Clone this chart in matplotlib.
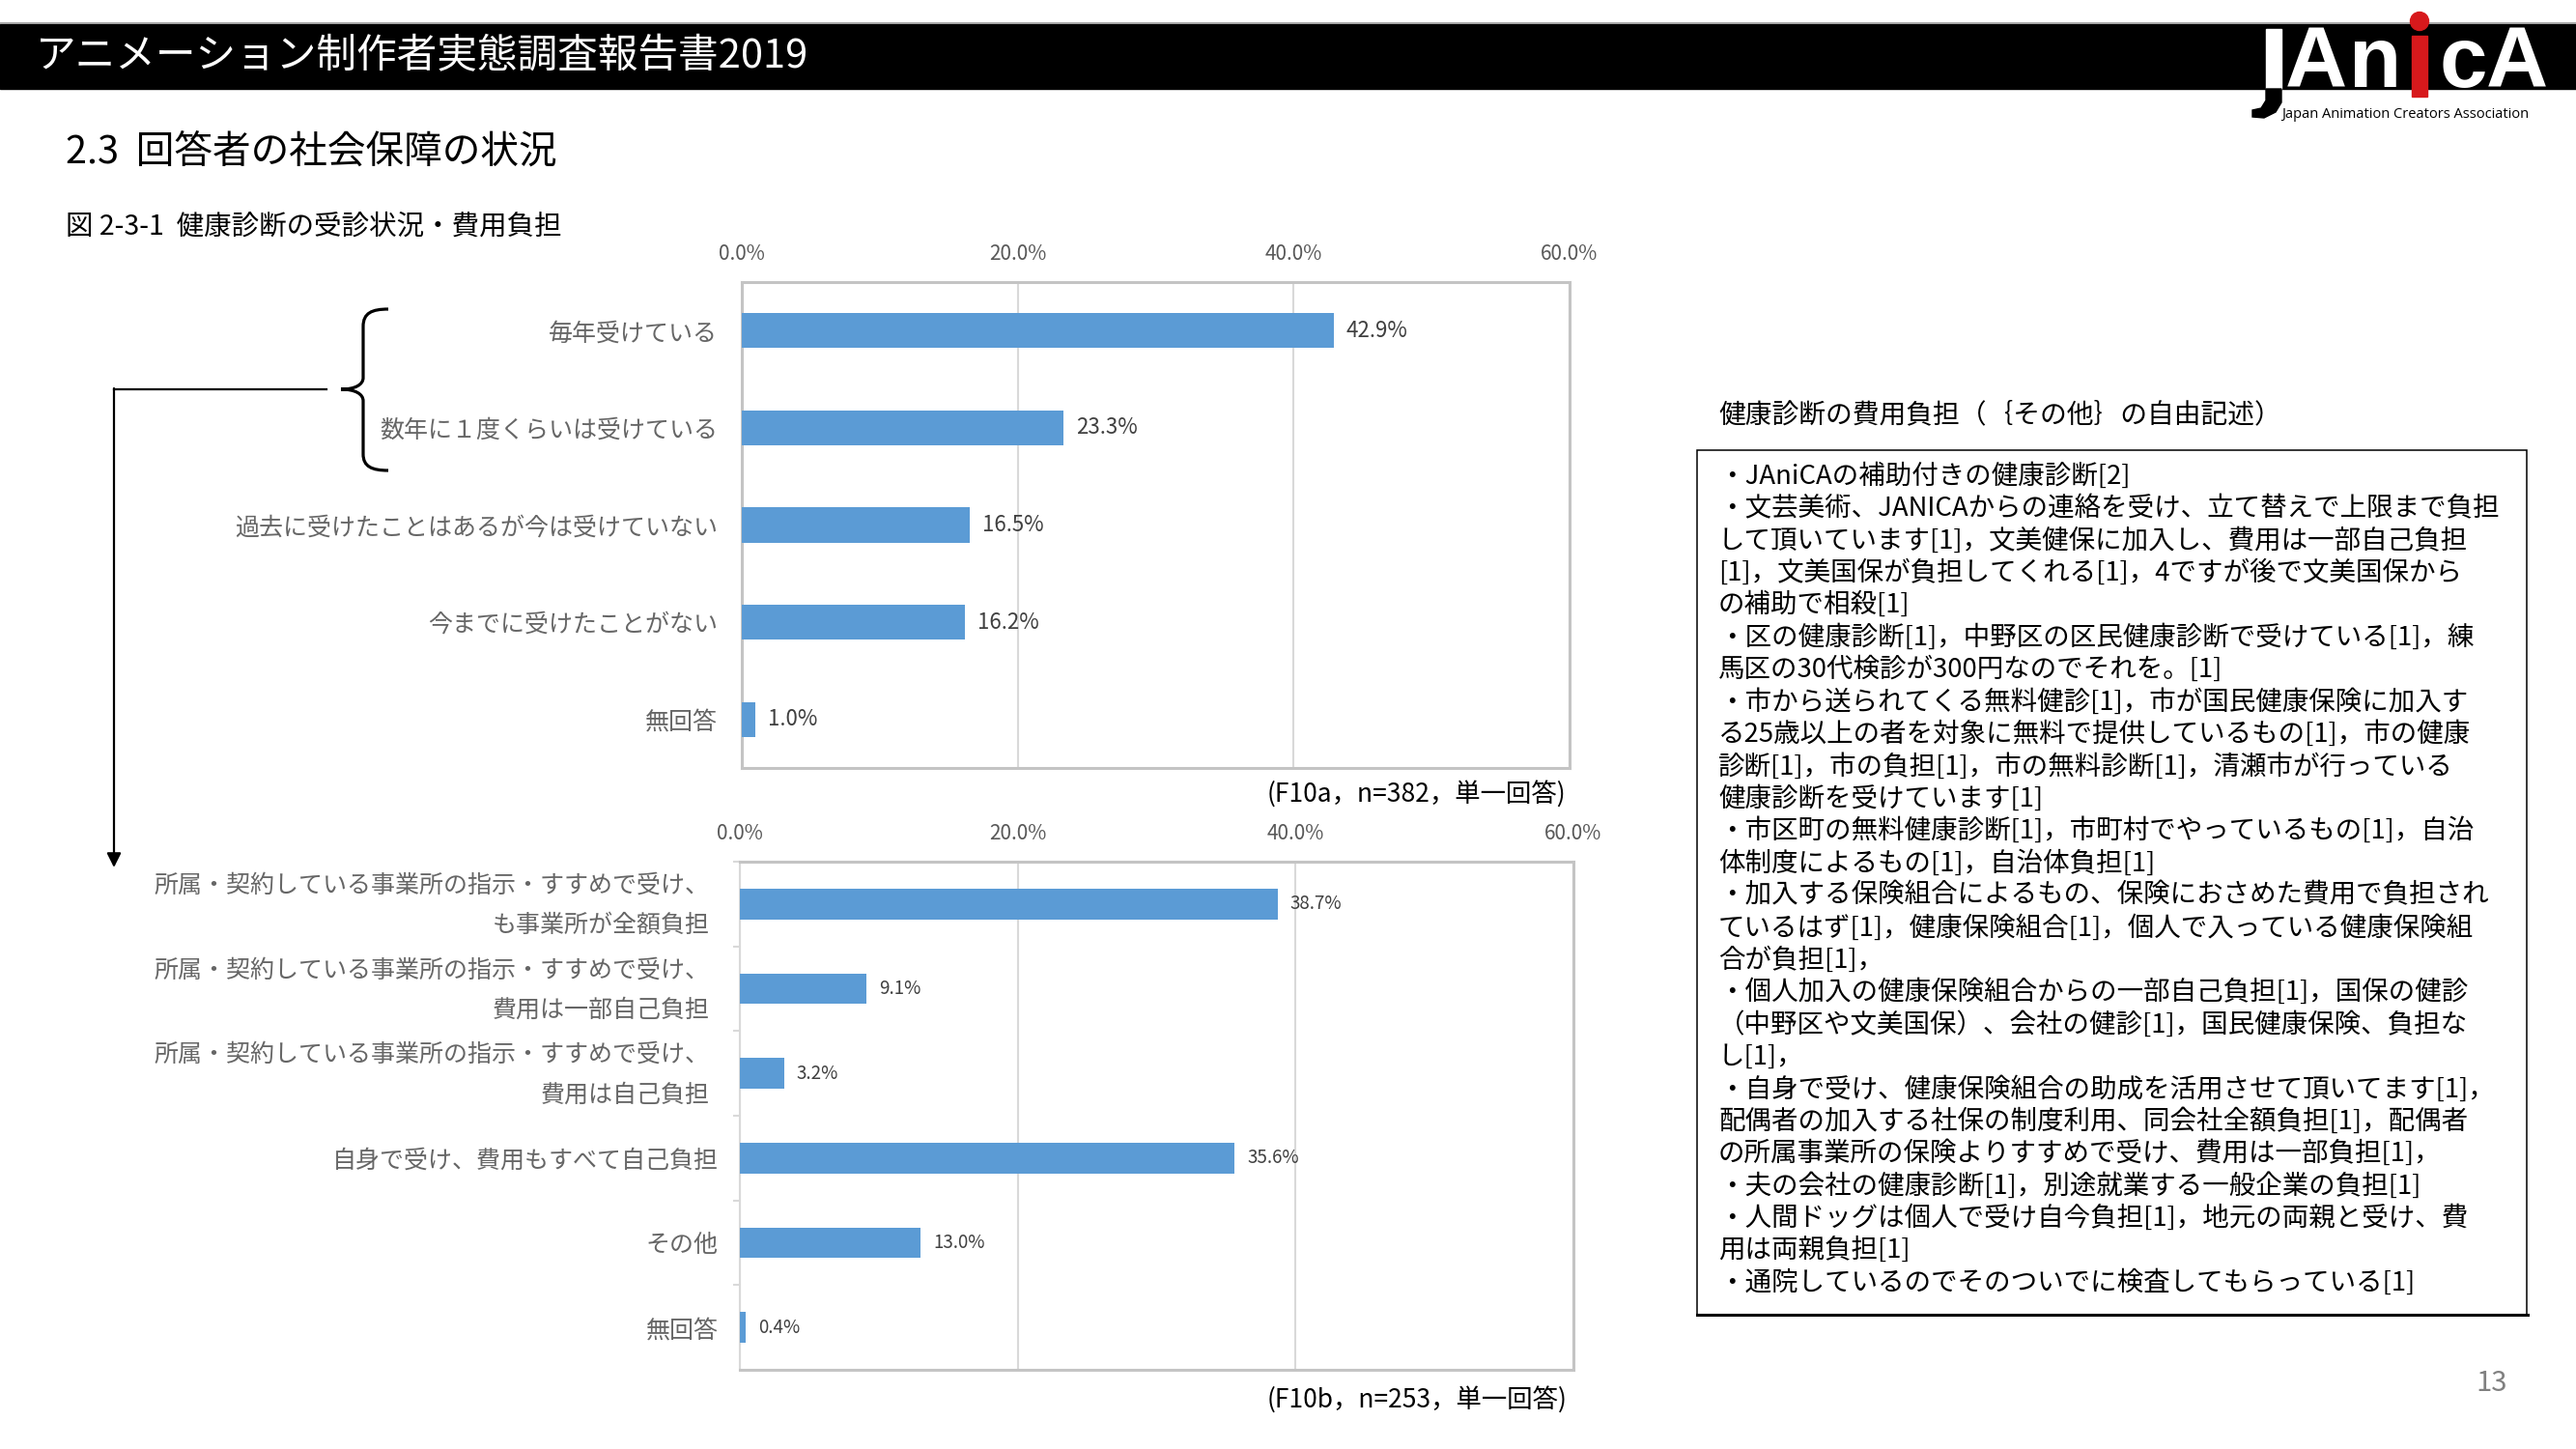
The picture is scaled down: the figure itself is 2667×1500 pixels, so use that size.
import numpy as np
import matplotlib.pyplot as plt
from matplotlib.patches import Rectangle, Circle, Polygon, PathPatch
from matplotlib.path import Path
from matplotlib.transforms import ScaledTranslation

plt.rcParams['font.family'] = ['Noto Sans CJK JP', 'DejaVu Sans']

# --- data ---
q1_labels = ['毎年受けている', '数年に１度くらいは受けている',
             '過去に受けたことはあるが今は受けていない',
             '今までに受けたことがない', '無回答']
q1_values = [42.9, 23.3, 16.5, 16.2, 1.0]

q2_labels = ['所属・契約している事業所の指示・すすめで受け、\nも事業所が全額負担',
             '所属・契約している事業所の指示・すすめで受け、\n費用は一部自己負担',
             '所属・契約している事業所の指示・すすめで受け、\n費用は自己負担',
             '自身で受け、費用もすべて自己負担', 'その他', '無回答']
q2_values = [38.7, 9.1, 3.2, 35.6, 13.0, 0.4]

x_ticks = [0, 20, 40, 60]
note1 = '(F10a，n=382，単一回答)'
note2 = '(F10b，n=253，単一回答)'

free_title = '健康診断の費用負担（｛その他｝の自由記述）'
free_lines = [
    '・JAniCAの補助付きの健康診断[2]',
    '・文芸美術、JANICAからの連絡を受け、立て替えで上限まで負担',
    'して頂いています[1]，文美健保に加入し、費用は一部自己負担',
    '[1]，文美国保が負担してくれる[1]，4ですが後で文美国保から',
    'の補助で相殺[1]',
    '・区の健康診断[1]，中野区の区民健康診断で受けている[1]，練',
    '馬区の30代検診が300円なのでそれを。[1]',
    '・市から送られてくる無料健診[1]，市が国民健康保険に加入す',
    'る25歳以上の者を対象に無料で提供しているもの[1]，市の健康',
    '診断[1]，市の負担[1]，市の無料診断[1]，清瀬市が行っている',
    '健康診断を受けています[1]',
    '・市区町の無料健康診断[1]，市町村でやっているもの[1]，自治',
    '体制度によるもの[1]，自治体負担[1]',
    '・加入する保険組合によるもの、保険におさめた費用で負担され',
    'ているはず[1]，健康保険組合[1]，個人で入っている健康保険組',
    '合が負担[1]，',
    '・個人加入の健康保険組合からの一部自己負担[1]，国保の健診',
    '（中野区や文美国保）、会社の健診[1]，国民健康保険、負担な',
    'し[1]，',
    '・自身で受け、健康保険組合の助成を活用させて頂いてます[1]，',
    '配偶者の加入する社保の制度利用、同会社全額負担[1]，配偶者',
    'の所属事業所の保険よりすすめで受け、費用は一部負担[1]，',
    '・夫の会社の健康診断[1]，別途就業する一般企業の負担[1]',
    '・人間ドッグは個人で受け自今負担[1]，地元の両親と受け、費',
    '用は両親負担[1]',
    '・通院しているのでそのついでに検査してもらっている[1]',
]

BLUE = '#5b9bd5'
LABEL = '#666666'
VALUE = '#404040'
W, H = 2667, 1500

fig = plt.figure(figsize=(W / 100, H / 100), dpi=100)

# overlay in pixel coordinates for page decorations
ov = fig.add_axes([0, 0, 1, 1])
ov.set_xlim(0, W)
ov.set_ylim(H, 0)
ov.axis('off')

# header bar
ov.add_patch(Rectangle((0, 25), W, 67, color='black', zorder=1))
ov.plot([0, W], [24, 24], color='#9a9a9a', lw=1.2, zorder=1)
ov.text(37, 59, 'アニメーション制作者実態調査報告書2019', color='white',
        fontsize=30, va='center', ha='left', zorder=3)

# logo
ov.add_patch(Rectangle((2346, 30), 16, 62, color='white', zorder=3))
ov.add_patch(Polygon([(2346, 92), (2362, 92), (2362, 106), (2356, 116), (2344, 122),
                      (2332, 121), (2332, 114), (2341, 112), (2346, 104)],
                     closed=True, color='black', zorder=3))
for ch, xc in zip(['A', 'n', 'c', 'A'], [2398, 2459, 2550, 2606]):
    ov.text(xc, 90, ch, color='white', fontsize=64, fontweight='bold',
            family='Liberation Sans', ha='center', va='baseline', zorder=3)
ov.add_patch(Rectangle((2497, 37), 16, 63, color='#d7191c', zorder=4))
ov.add_patch(Circle((2505, 22), 9.5, color='#d7191c', zorder=4))
ov.text(2362, 118, 'Japan Animation Creators Association', fontsize=10.5,
        family='Open Sans', ha='left', va='center', color='black')

# headings
ov.text(68, 158, '2.3  回答者の社会保障の状況', fontsize=28.5, va='center', ha='left')
ov.text(68, 235, '図 2-3-1  健康診断の受診状況・費用負担', fontsize=20.5,
        va='center', ha='left')

# brace and arrow
verts = [(402, 320), (385, 320), (376, 324), (376, 338),
         (376, 391),
         (376, 398), (368, 403), (353, 403),
         (368, 403), (376, 408), (376, 415),
         (376, 470),
         (376, 483), (385, 487), (402, 487)]
codes = [Path.MOVETO, Path.CURVE4, Path.CURVE4, Path.CURVE4,
         Path.LINETO,
         Path.CURVE4, Path.CURVE4, Path.CURVE4,
         Path.CURVE4, Path.CURVE4, Path.CURVE4,
         Path.LINETO,
         Path.CURVE4, Path.CURVE4, Path.CURVE4]
ov.add_patch(PathPatch(Path(verts, codes), fill=False, lw=2.3, ec='black'))
ov.plot([118, 338], [403, 403], color='black', lw=1.6)
ov.annotate('', xy=(118, 898), xytext=(118, 402),
            arrowprops=dict(arrowstyle='-|>', color='black', lw=1.6,
                            mutation_scale=22, shrinkA=0, shrinkB=0))

# free text block
ov.text(1779, 429, free_title, fontsize=20, va='center', ha='left')
ov.add_patch(Rectangle((1757, 466), 2616 - 1757, 1361 - 466, fill=False,
                       ec='black', lw=1.1))
ov.plot([1757, 2617], [1361, 1361], color='black', lw=2.2)
for i, line in enumerate(free_lines):
    ov.text(1779, 493 + i * 33.4, line, fontsize=19.8, va='center', ha='left')

# notes and page number
ov.text(1621, 822, note1, fontsize=19, ha='right', va='center')
ov.text(1623, 1449, note2, fontsize=19, ha='right', va='center')
ov.text(2580, 1432, '13', fontsize=21, ha='center', va='center', color='#808080')


def style_chart(ax, labels, values, val_size, label_pad):
    n = len(labels)
    y = np.arange(n)
    ax.barh(y, values, height=0.36, color=BLUE, zorder=3)
    ax.set_xlim(0, 60)
    ax.set_ylim(n - 0.5, -0.5)
    ax.set_xticks(x_ticks)
    ax.set_xticklabels(['%.1f%%' % t for t in x_ticks])
    ax.xaxis.tick_top()
    ax.tick_params(axis='x', length=0, pad=13, labelsize=15, labelcolor='#595959')
    ax.set_yticks(y)
    ax.set_yticklabels(labels, fontsize=18, color=LABEL, linespacing=1.75)
    ax.tick_params(axis='y', length=0, pad=label_pad)
    ax.grid(axis='x', color='#d9d9d9', lw=1.5, zorder=0)
    for s in ax.spines.values():
        s.set_color('#c4c4c4')
        s.set_linewidth(2.2)
    for yi, v in zip(y, values):
        ax.text(v + 0.9, yi, '%.1f%%' % v, fontsize=val_size, color=VALUE,
                va='center', ha='left')


ax1 = fig.add_axes([768 / W, 1 - 795 / H, 857 / W, 503 / H])
style_chart(ax1, q1_labels, q1_values, 16, 18)

ax2 = fig.add_axes([766 / W, 1 - 1418 / H, 863 / W, 526 / H])
style_chart(ax2, q2_labels, q2_values, 13.5, 16)
ax2.spines['left'].set_color('#d9d9d9')
ax2.spines['left'].set_linewidth(1.5)
ax2.set_yticks(np.arange(-0.5, len(q2_labels) - 1, 1), minor=True)
ax2.tick_params(axis='y', which='minor', length=5, width=1.5, color='#d9d9d9')

# multi-line labels sit a little further left and higher in the original
nudge = ScaledTranslation(-0.09, 0.09, fig.dpi_scale_trans)
for lab in ax2.get_yticklabels():
    if '\n' in lab.get_text():
        lab.set_transform(lab.get_transform() + nudge)

fig.savefig('out.png', dpi=100)
